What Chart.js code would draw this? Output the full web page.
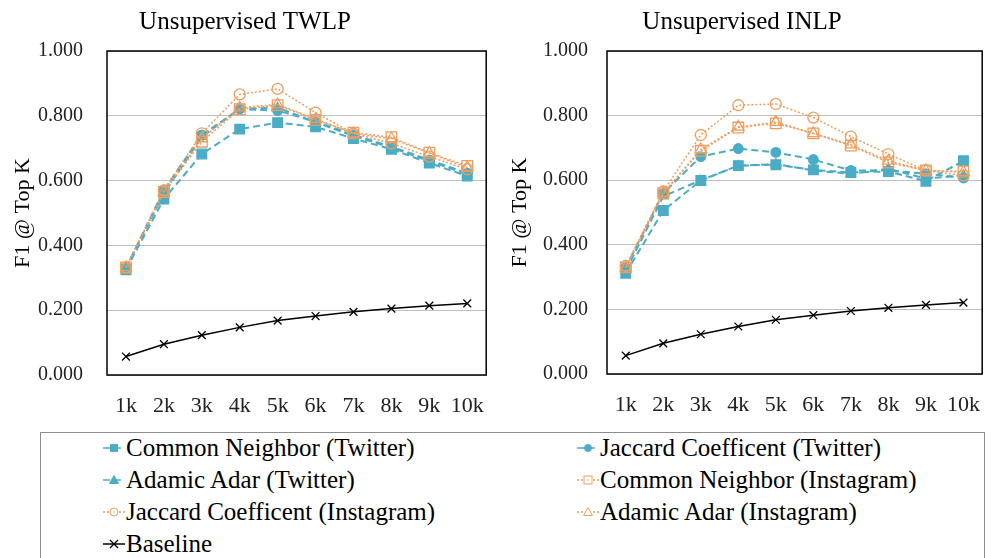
<!DOCTYPE html>
<html>
<head>
<meta charset="utf-8">
<script src="https://cdn.jsdelivr.net/npm/chart.js@4"></script>
<style>
  body { margin: 0; background: #fff; width: 991px; height: 558px; overflow: hidden; position: relative;
         font-family: 'Liberation Serif', 'Times New Roman', serif; }
  canvas { position: absolute; top: 0; }
  #twlp { left: 0; }
  #inlp { left: 495px; }
  #legend { position: absolute; left: 40px; top: 432px; width: 945px; height: 140px;
            border: 1.5px solid #8c8c8c; box-sizing: border-box; }
  .item { position: absolute; display: flex; align-items: center; font-size: 25px; color: #000; white-space: nowrap; }
  .item svg { margin-right: 1px; }
</style>
</head>
<body>
<canvas id="twlp" width="495" height="425"></canvas>
<canvas id="inlp" width="496" height="425"></canvas>
<div id="legend"></div>

<script>
const TEAL = '#4BACC6';
const ORANGE = '#EE9E5F';

// x categories (top K)
const kLabels = ['1k', '2k', '3k', '4k', '5k', '6k', '7k', '8k', '9k', '10k'];

// F1 @ top K, unsupervised TWLP
const twlpCnTwitter   = [0.325, 0.543, 0.682, 0.759, 0.779, 0.766, 0.730, 0.697, 0.654, 0.614];
const twlpJcTwitter   = [0.330, 0.571, 0.741, 0.821, 0.816, 0.782, 0.741, 0.705, 0.664, 0.623];
const twlpAaTwitter   = [0.330, 0.560, 0.735, 0.822, 0.825, 0.780, 0.738, 0.702, 0.660, 0.620];
const twlpCnInstagram = [0.332, 0.565, 0.720, 0.820, 0.833, 0.787, 0.748, 0.734, 0.686, 0.645];
const twlpJcInstagram = [0.332, 0.570, 0.746, 0.866, 0.883, 0.810, 0.745, 0.715, 0.674, 0.635];
const twlpAaInstagram = [0.332, 0.565, 0.730, 0.825, 0.835, 0.790, 0.745, 0.730, 0.685, 0.640];

// F1 @ top K, unsupervised INLP
const inlpCnTwitter   = [0.312, 0.506, 0.599, 0.645, 0.648, 0.632, 0.624, 0.627, 0.597, 0.660];
const inlpJcTwitter   = [0.330, 0.560, 0.673, 0.698, 0.686, 0.664, 0.630, 0.630, 0.620, 0.607];
const inlpAaTwitter   = [0.320, 0.550, 0.600, 0.645, 0.650, 0.630, 0.620, 0.635, 0.605, 0.615];
const inlpCnInstagram = [0.330, 0.560, 0.691, 0.763, 0.776, 0.745, 0.707, 0.655, 0.630, 0.627];
const inlpJcInstagram = [0.335, 0.565, 0.740, 0.832, 0.836, 0.794, 0.735, 0.681, 0.630, 0.614];
const inlpAaInstagram = [0.330, 0.560, 0.695, 0.765, 0.780, 0.745, 0.710, 0.660, 0.630, 0.625];

// random baseline, same for both
const baseline = [0.057, 0.095, 0.123, 0.147, 0.168, 0.182, 0.195, 0.205, 0.214, 0.221];

// series appearance, in legend order
const styles = [
  { label: 'Common Neighbor (Twitter)',    color: TEAL,   dash: [7, 4], width: 2,   point: 'rect',     radius: 6.8, filled: true,  order: 2 },
  { label: 'Jaccard Coefficent (Twitter)', color: TEAL,   dash: [7, 4], width: 2,   point: 'circle',   radius: 4.8, filled: true,  order: 2 },
  { label: 'Adamic Adar (Twitter)',        color: TEAL,   dash: [7, 4], width: 2,   point: 'triangle', radius: 5.2, filled: true,  order: 2 },
  { label: 'Common Neighbor (Instagram)',  color: ORANGE, dash: [2, 2], width: 1.5, point: 'rect',     radius: 7.5, filled: false, order: 1 },
  { label: 'Jaccard Coefficent (Instagram)', color: ORANGE, dash: [2, 2], width: 1.5, point: 'circle', radius: 5.5, filled: false, order: 1 },
  { label: 'Adamic Adar (Instagram)',      color: ORANGE, dash: [2, 2], width: 1.5, point: 'triangle', radius: 6.5, filled: false, order: 1 },
  { label: 'Baseline',                     color: '#000', dash: [],     width: 1.5, point: 'crossRot', radius: 5.5, filled: false, order: 0 }
];

function buildDatasets(values) {
  return styles.map((st, i) => ({
    label: st.label,
    data: values[i],
    borderColor: st.color,
    borderWidth: st.width,
    borderDash: st.dash,
    tension: 0,
    fill: false,
    pointStyle: st.point,
    pointRadius: st.radius,
    pointHoverRadius: st.radius,
    pointBorderColor: st.color,
    pointBorderWidth: 1.3,
    pointBackgroundColor: st.filled ? st.color : 'rgba(0,0,0,0)',
    order: st.order
  }));
}

// black box around the plot area
const frame = {
  id: 'frame',
  beforeDatasetsDraw(chart) {
    const { ctx, chartArea: a } = chart;
    ctx.save();
    ctx.strokeStyle = '#000';
    ctx.lineWidth = 1.5;
    ctx.strokeRect(a.left, a.top, a.right - a.left, a.bottom - a.top);
    ctx.restore();
  }
};

const serif = "'Liberation Serif', 'Times New Roman', serif";

function makeChart(id, title, values, g) {
  return new Chart(document.getElementById(id), {
    type: 'line',
    data: { labels: kLabels, datasets: buildDatasets(values) },
    plugins: [frame],
    options: {
      responsive: false,
      animation: false,
      layout: { padding: { left: 0, right: g.padRight, top: 0, bottom: 0 } },
      plugins: {
        legend: { display: false },
        tooltip: { enabled: false },
        title: {
          display: true,
          text: title,
          color: '#000',
          font: { family: serif, size: 25, weight: 'normal' },
          padding: { top: 7, bottom: 14 }
        }
      },
      scales: {
        x: {
          offset: true,
          grid: { display: false },
          border: { display: false },
          ticks: { color: '#222', font: { family: serif, size: 22 }, padding: 10, maxRotation: 0 },
          afterFit(s) { s.height = g.xHeight; }
        },
        y: {
          min: 0,
          max: 1,
          grid: { color: '#BFBFBF', lineWidth: 1, drawTicks: false },
          border: { display: false },
          ticks: {
            stepSize: 0.2,
            color: '#222',
            padding: g.tickPad,
            font: { family: serif, size: 20 },
            callback: v => v.toFixed(3)
          },
          title: {
            display: true,
            text: 'F1 @ Top K',
            color: '#000',
            font: { family: serif, size: 22 },
            padding: { top: g.titlePad, bottom: 0 }
          },
          afterFit(s) { s.width = g.yWidth; }
        }
      }
    }
  });
}

makeChart('twlp', 'Unsupervised TWLP',
  [twlpCnTwitter, twlpJcTwitter, twlpAaTwitter, twlpCnInstagram, twlpJcInstagram, twlpAaInstagram, baseline],
  { yWidth: 107, tickPad: 24, titlePad: 10, padRight: 5, xHeight: 50 });

makeChart('inlp', 'Unsupervised INLP',
  [inlpCnTwitter, inlpJcTwitter, inlpAaTwitter, inlpCnInstagram, inlpJcInstagram, inlpAaInstagram, baseline],
  { yWidth: 112, tickPad: 19, titlePad: 12, padRight: 2, xHeight: 51 });

// shared legend under both charts
function legendIcon(st) {
  const c = st.color;
  const dash = st.dash.length ? ` stroke-dasharray="${st.dash.join(' ')}"` : '';
  const fill = st.filled ? c : '#fff';
  let mark = '';
  if (st.point === 'rect') {
    const s = st.filled ? 3.5 : 4;
    mark = `<rect x="${11 - s}" y="${8 - s}" width="${2 * s}" height="${2 * s}" fill="${fill}" stroke="${c}" stroke-width="1"/>`;
    if (!st.filled) mark += `<circle cx="11" cy="8" r="0.8" fill="${c}"/>`;
  } else if (st.point === 'circle') {
    mark = `<circle cx="11" cy="8" r="${st.filled ? 3.5 : 4}" fill="${fill}" stroke="${c}" stroke-width="1"/>`;
    if (!st.filled) mark += `<circle cx="11" cy="8" r="0.8" fill="${c}"/>`;
  } else if (st.point === 'triangle') {
    mark = `<polygon points="11,3.5 15.5,11.5 6.5,11.5" fill="${fill}" stroke="${c}" stroke-width="1"/>`;
  } else {
    mark = `<path d="M7 4 L15 12 M15 4 L7 12" stroke="${c}" stroke-width="1.3"/>`;
  }
  return `<svg width="22" height="16"><line x1="0" y1="8" x2="22" y2="8" stroke="${c}" stroke-width="1.5"${dash}/>${mark}</svg>`;
}

const legendEl = document.getElementById('legend');
const colLeft = [62, 536];
const rowTop = [1, 33, 65, 97];
styles.forEach((st, i) => {
  const el = document.createElement('div');
  el.className = 'item';
  el.style.left = colLeft[i % 2] + 'px';
  el.style.top = rowTop[Math.floor(i / 2)] + 'px';
  el.innerHTML = legendIcon(st) + '<span>' + st.label + '</span>';
  legendEl.appendChild(el);
});
</script>
</body>
</html>
